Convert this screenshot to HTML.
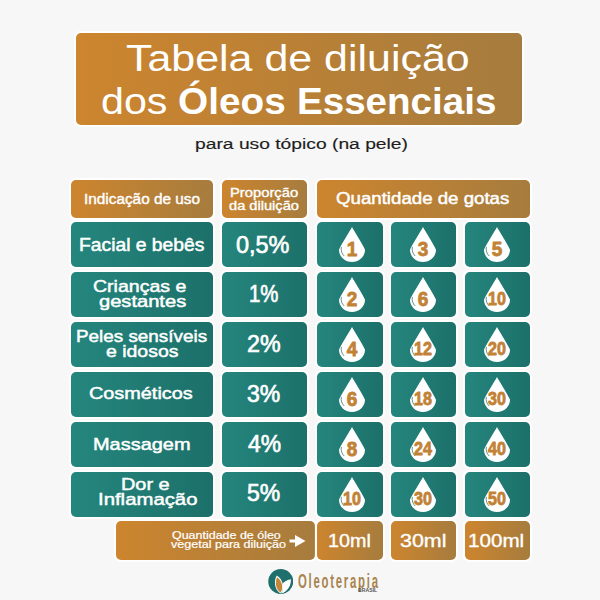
<!DOCTYPE html>
<html><head><meta charset="utf-8">
<style>
html,body{margin:0;padding:0;width:600px;height:600px;overflow:hidden;background:#f7f7f7;}
body{position:relative;font-family:"Liberation Sans",sans-serif;}
.b{position:absolute;border-radius:5px;box-sizing:border-box;box-shadow:0 0 1px 1.5px rgba(255,255,255,0.95);}
.or{background:linear-gradient(90deg,#cd852e 0%,#a67c3e 100%);}
.tl{background:linear-gradient(90deg,#25867d 0%,#1c706a 100%);}
.t{position:absolute;white-space:nowrap;transform-origin:0 0;}
.d{position:absolute;}
</style></head>
<body>

<div class="b or" style="left:76px;top:33px;width:446px;height:92.3px;"></div>
<div class="b or" style="left:71px;top:180px;width:141.5px;height:37.5px;"></div>
<div class="b or" style="left:222px;top:180px;width:85px;height:37.5px;"></div>
<div class="b or" style="left:317px;top:180px;width:213px;height:37.5px;"></div>
<div class="b tl" style="left:71px;top:222px;width:141.5px;height:45.30000000000001px;"></div>
<div class="b tl" style="left:222px;top:222px;width:85px;height:45.30000000000001px;"></div>
<div class="b tl" style="left:317px;top:222px;width:65.5px;height:45.30000000000001px;"></div>
<svg class="d" style="left:338.75px;top:227.00px" width="26" height="35" viewBox="0 0 26 35"><g transform="scale(1 0.9722)"><path d="M13 0 C15 4 24.5 19 26 23.4 C26 30.4 20.2 36 13 36 C5.8 36 0 30.4 0 23.4 C1.5 19 11 4 13 0Z" fill="#fff"/><path d="M2.4 20.5 C1.6 24 2.8 27.5 5.2 29.8" stroke="#2c5f5c" stroke-width="0.7" fill="none"/></g><g transform="translate(13 0) scale(0.95 1)"><text x="0" y="29.0" text-anchor="middle" font-family="Liberation Sans" font-weight="bold" font-size="20" fill="#c28235" stroke="#c28235" stroke-width="0.8" stroke-linejoin="round">1</text></g></svg>
<div class="b tl" style="left:391px;top:222px;width:64.5px;height:45.30000000000001px;"></div>
<svg class="d" style="left:410.25px;top:227.00px" width="26" height="35" viewBox="0 0 26 35"><g transform="scale(1 0.9722)"><path d="M13 0 C15 4 24.5 19 26 23.4 C26 30.4 20.2 36 13 36 C5.8 36 0 30.4 0 23.4 C1.5 19 11 4 13 0Z" fill="#fff"/><path d="M2.4 20.5 C1.6 24 2.8 27.5 5.2 29.8" stroke="#2c5f5c" stroke-width="0.7" fill="none"/></g><g transform="translate(13 0) scale(0.95 1)"><text x="0" y="29.0" text-anchor="middle" font-family="Liberation Sans" font-weight="bold" font-size="20" fill="#c28235" stroke="#c28235" stroke-width="0.8" stroke-linejoin="round">3</text></g></svg>
<div class="b tl" style="left:464.5px;top:222px;width:65.0px;height:45.30000000000001px;"></div>
<svg class="d" style="left:484.00px;top:227.00px" width="26" height="35" viewBox="0 0 26 35"><g transform="scale(1 0.9722)"><path d="M13 0 C15 4 24.5 19 26 23.4 C26 30.4 20.2 36 13 36 C5.8 36 0 30.4 0 23.4 C1.5 19 11 4 13 0Z" fill="#fff"/><path d="M2.4 20.5 C1.6 24 2.8 27.5 5.2 29.8" stroke="#2c5f5c" stroke-width="0.7" fill="none"/></g><g transform="translate(13 0) scale(0.95 1)"><text x="0" y="29.0" text-anchor="middle" font-family="Liberation Sans" font-weight="bold" font-size="20" fill="#c28235" stroke="#c28235" stroke-width="0.8" stroke-linejoin="round">5</text></g></svg>
<div class="b tl" style="left:71px;top:272px;width:141.5px;height:45.30000000000001px;"></div>
<div class="b tl" style="left:222px;top:272px;width:85px;height:45.30000000000001px;"></div>
<div class="b tl" style="left:317px;top:272px;width:65.5px;height:45.30000000000001px;"></div>
<svg class="d" style="left:338.75px;top:277.00px" width="26" height="35" viewBox="0 0 26 35"><g transform="scale(1 0.9722)"><path d="M13 0 C15 4 24.5 19 26 23.4 C26 30.4 20.2 36 13 36 C5.8 36 0 30.4 0 23.4 C1.5 19 11 4 13 0Z" fill="#fff"/><path d="M2.4 20.5 C1.6 24 2.8 27.5 5.2 29.8" stroke="#2c5f5c" stroke-width="0.7" fill="none"/></g><g transform="translate(13 0) scale(0.95 1)"><text x="0" y="29.0" text-anchor="middle" font-family="Liberation Sans" font-weight="bold" font-size="20" fill="#c28235" stroke="#c28235" stroke-width="0.8" stroke-linejoin="round">2</text></g></svg>
<div class="b tl" style="left:391px;top:272px;width:64.5px;height:45.30000000000001px;"></div>
<svg class="d" style="left:410.25px;top:277.00px" width="26" height="35" viewBox="0 0 26 35"><g transform="scale(1 0.9722)"><path d="M13 0 C15 4 24.5 19 26 23.4 C26 30.4 20.2 36 13 36 C5.8 36 0 30.4 0 23.4 C1.5 19 11 4 13 0Z" fill="#fff"/><path d="M2.4 20.5 C1.6 24 2.8 27.5 5.2 29.8" stroke="#2c5f5c" stroke-width="0.7" fill="none"/></g><g transform="translate(13 0) scale(0.95 1)"><text x="0" y="29.0" text-anchor="middle" font-family="Liberation Sans" font-weight="bold" font-size="20" fill="#c28235" stroke="#c28235" stroke-width="0.8" stroke-linejoin="round">6</text></g></svg>
<div class="b tl" style="left:464.5px;top:272px;width:65.0px;height:45.30000000000001px;"></div>
<svg class="d" style="left:484.00px;top:277.00px" width="26" height="35" viewBox="0 0 26 35"><g transform="scale(1 0.9722)"><path d="M13 0 C15 4 24.5 19 26 23.4 C26 30.4 20.2 36 13 36 C5.8 36 0 30.4 0 23.4 C1.5 19 11 4 13 0Z" fill="#fff"/><path d="M2.4 20.5 C1.6 24 2.8 27.5 5.2 29.8" stroke="#2c5f5c" stroke-width="0.7" fill="none"/></g><g transform="translate(13 0) scale(0.92 1)"><text x="0" y="28.3" text-anchor="middle" font-family="Liberation Sans" font-weight="bold" font-size="17.5" fill="#c28235" stroke="#c28235" stroke-width="0.8" stroke-linejoin="round">10</text></g></svg>
<div class="b tl" style="left:71px;top:322px;width:141.5px;height:45.30000000000001px;"></div>
<div class="b tl" style="left:222px;top:322px;width:85px;height:45.30000000000001px;"></div>
<div class="b tl" style="left:317px;top:322px;width:65.5px;height:45.30000000000001px;"></div>
<svg class="d" style="left:338.75px;top:327.00px" width="26" height="35" viewBox="0 0 26 35"><g transform="scale(1 0.9722)"><path d="M13 0 C15 4 24.5 19 26 23.4 C26 30.4 20.2 36 13 36 C5.8 36 0 30.4 0 23.4 C1.5 19 11 4 13 0Z" fill="#fff"/><path d="M2.4 20.5 C1.6 24 2.8 27.5 5.2 29.8" stroke="#2c5f5c" stroke-width="0.7" fill="none"/></g><g transform="translate(13 0) scale(0.95 1)"><text x="0" y="29.0" text-anchor="middle" font-family="Liberation Sans" font-weight="bold" font-size="20" fill="#c28235" stroke="#c28235" stroke-width="0.8" stroke-linejoin="round">4</text></g></svg>
<div class="b tl" style="left:391px;top:322px;width:64.5px;height:45.30000000000001px;"></div>
<svg class="d" style="left:410.25px;top:327.00px" width="26" height="35" viewBox="0 0 26 35"><g transform="scale(1 0.9722)"><path d="M13 0 C15 4 24.5 19 26 23.4 C26 30.4 20.2 36 13 36 C5.8 36 0 30.4 0 23.4 C1.5 19 11 4 13 0Z" fill="#fff"/><path d="M2.4 20.5 C1.6 24 2.8 27.5 5.2 29.8" stroke="#2c5f5c" stroke-width="0.7" fill="none"/></g><g transform="translate(13 0) scale(0.92 1)"><text x="0" y="28.3" text-anchor="middle" font-family="Liberation Sans" font-weight="bold" font-size="17.5" fill="#c28235" stroke="#c28235" stroke-width="0.8" stroke-linejoin="round">12</text></g></svg>
<div class="b tl" style="left:464.5px;top:322px;width:65.0px;height:45.30000000000001px;"></div>
<svg class="d" style="left:484.00px;top:327.00px" width="26" height="35" viewBox="0 0 26 35"><g transform="scale(1 0.9722)"><path d="M13 0 C15 4 24.5 19 26 23.4 C26 30.4 20.2 36 13 36 C5.8 36 0 30.4 0 23.4 C1.5 19 11 4 13 0Z" fill="#fff"/><path d="M2.4 20.5 C1.6 24 2.8 27.5 5.2 29.8" stroke="#2c5f5c" stroke-width="0.7" fill="none"/></g><g transform="translate(13 0) scale(0.92 1)"><text x="0" y="28.3" text-anchor="middle" font-family="Liberation Sans" font-weight="bold" font-size="17.5" fill="#c28235" stroke="#c28235" stroke-width="0.8" stroke-linejoin="round">20</text></g></svg>
<div class="b tl" style="left:71px;top:372px;width:141.5px;height:45.30000000000001px;"></div>
<div class="b tl" style="left:222px;top:372px;width:85px;height:45.30000000000001px;"></div>
<div class="b tl" style="left:317px;top:372px;width:65.5px;height:45.30000000000001px;"></div>
<svg class="d" style="left:338.75px;top:377.00px" width="26" height="35" viewBox="0 0 26 35"><g transform="scale(1 0.9722)"><path d="M13 0 C15 4 24.5 19 26 23.4 C26 30.4 20.2 36 13 36 C5.8 36 0 30.4 0 23.4 C1.5 19 11 4 13 0Z" fill="#fff"/><path d="M2.4 20.5 C1.6 24 2.8 27.5 5.2 29.8" stroke="#2c5f5c" stroke-width="0.7" fill="none"/></g><g transform="translate(13 0) scale(0.95 1)"><text x="0" y="29.0" text-anchor="middle" font-family="Liberation Sans" font-weight="bold" font-size="20" fill="#c28235" stroke="#c28235" stroke-width="0.8" stroke-linejoin="round">6</text></g></svg>
<div class="b tl" style="left:391px;top:372px;width:64.5px;height:45.30000000000001px;"></div>
<svg class="d" style="left:410.25px;top:377.00px" width="26" height="35" viewBox="0 0 26 35"><g transform="scale(1 0.9722)"><path d="M13 0 C15 4 24.5 19 26 23.4 C26 30.4 20.2 36 13 36 C5.8 36 0 30.4 0 23.4 C1.5 19 11 4 13 0Z" fill="#fff"/><path d="M2.4 20.5 C1.6 24 2.8 27.5 5.2 29.8" stroke="#2c5f5c" stroke-width="0.7" fill="none"/></g><g transform="translate(13 0) scale(0.92 1)"><text x="0" y="28.3" text-anchor="middle" font-family="Liberation Sans" font-weight="bold" font-size="17.5" fill="#c28235" stroke="#c28235" stroke-width="0.8" stroke-linejoin="round">18</text></g></svg>
<div class="b tl" style="left:464.5px;top:372px;width:65.0px;height:45.30000000000001px;"></div>
<svg class="d" style="left:484.00px;top:377.00px" width="26" height="35" viewBox="0 0 26 35"><g transform="scale(1 0.9722)"><path d="M13 0 C15 4 24.5 19 26 23.4 C26 30.4 20.2 36 13 36 C5.8 36 0 30.4 0 23.4 C1.5 19 11 4 13 0Z" fill="#fff"/><path d="M2.4 20.5 C1.6 24 2.8 27.5 5.2 29.8" stroke="#2c5f5c" stroke-width="0.7" fill="none"/></g><g transform="translate(13 0) scale(0.92 1)"><text x="0" y="28.3" text-anchor="middle" font-family="Liberation Sans" font-weight="bold" font-size="17.5" fill="#c28235" stroke="#c28235" stroke-width="0.8" stroke-linejoin="round">30</text></g></svg>
<div class="b tl" style="left:71px;top:422px;width:141.5px;height:45.30000000000001px;"></div>
<div class="b tl" style="left:222px;top:422px;width:85px;height:45.30000000000001px;"></div>
<div class="b tl" style="left:317px;top:422px;width:65.5px;height:45.30000000000001px;"></div>
<svg class="d" style="left:338.75px;top:427.00px" width="26" height="35" viewBox="0 0 26 35"><g transform="scale(1 0.9722)"><path d="M13 0 C15 4 24.5 19 26 23.4 C26 30.4 20.2 36 13 36 C5.8 36 0 30.4 0 23.4 C1.5 19 11 4 13 0Z" fill="#fff"/><path d="M2.4 20.5 C1.6 24 2.8 27.5 5.2 29.8" stroke="#2c5f5c" stroke-width="0.7" fill="none"/></g><g transform="translate(13 0) scale(0.95 1)"><text x="0" y="29.0" text-anchor="middle" font-family="Liberation Sans" font-weight="bold" font-size="20" fill="#c28235" stroke="#c28235" stroke-width="0.8" stroke-linejoin="round">8</text></g></svg>
<div class="b tl" style="left:391px;top:422px;width:64.5px;height:45.30000000000001px;"></div>
<svg class="d" style="left:410.25px;top:427.00px" width="26" height="35" viewBox="0 0 26 35"><g transform="scale(1 0.9722)"><path d="M13 0 C15 4 24.5 19 26 23.4 C26 30.4 20.2 36 13 36 C5.8 36 0 30.4 0 23.4 C1.5 19 11 4 13 0Z" fill="#fff"/><path d="M2.4 20.5 C1.6 24 2.8 27.5 5.2 29.8" stroke="#2c5f5c" stroke-width="0.7" fill="none"/></g><g transform="translate(13 0) scale(0.92 1)"><text x="0" y="28.3" text-anchor="middle" font-family="Liberation Sans" font-weight="bold" font-size="17.5" fill="#c28235" stroke="#c28235" stroke-width="0.8" stroke-linejoin="round">24</text></g></svg>
<div class="b tl" style="left:464.5px;top:422px;width:65.0px;height:45.30000000000001px;"></div>
<svg class="d" style="left:484.00px;top:427.00px" width="26" height="35" viewBox="0 0 26 35"><g transform="scale(1 0.9722)"><path d="M13 0 C15 4 24.5 19 26 23.4 C26 30.4 20.2 36 13 36 C5.8 36 0 30.4 0 23.4 C1.5 19 11 4 13 0Z" fill="#fff"/><path d="M2.4 20.5 C1.6 24 2.8 27.5 5.2 29.8" stroke="#2c5f5c" stroke-width="0.7" fill="none"/></g><g transform="translate(13 0) scale(0.92 1)"><text x="0" y="28.3" text-anchor="middle" font-family="Liberation Sans" font-weight="bold" font-size="17.5" fill="#c28235" stroke="#c28235" stroke-width="0.8" stroke-linejoin="round">40</text></g></svg>
<div class="b tl" style="left:71px;top:472px;width:141.5px;height:45.299999999999955px;"></div>
<div class="b tl" style="left:222px;top:472px;width:85px;height:45.299999999999955px;"></div>
<div class="b tl" style="left:317px;top:472px;width:65.5px;height:45.299999999999955px;"></div>
<svg class="d" style="left:338.75px;top:477.00px" width="26" height="35" viewBox="0 0 26 35"><g transform="scale(1 0.9722)"><path d="M13 0 C15 4 24.5 19 26 23.4 C26 30.4 20.2 36 13 36 C5.8 36 0 30.4 0 23.4 C1.5 19 11 4 13 0Z" fill="#fff"/><path d="M2.4 20.5 C1.6 24 2.8 27.5 5.2 29.8" stroke="#2c5f5c" stroke-width="0.7" fill="none"/></g><g transform="translate(13 0) scale(0.92 1)"><text x="0" y="28.3" text-anchor="middle" font-family="Liberation Sans" font-weight="bold" font-size="17.5" fill="#c28235" stroke="#c28235" stroke-width="0.8" stroke-linejoin="round">10</text></g></svg>
<div class="b tl" style="left:391px;top:472px;width:64.5px;height:45.299999999999955px;"></div>
<svg class="d" style="left:410.25px;top:477.00px" width="26" height="35" viewBox="0 0 26 35"><g transform="scale(1 0.9722)"><path d="M13 0 C15 4 24.5 19 26 23.4 C26 30.4 20.2 36 13 36 C5.8 36 0 30.4 0 23.4 C1.5 19 11 4 13 0Z" fill="#fff"/><path d="M2.4 20.5 C1.6 24 2.8 27.5 5.2 29.8" stroke="#2c5f5c" stroke-width="0.7" fill="none"/></g><g transform="translate(13 0) scale(0.92 1)"><text x="0" y="28.3" text-anchor="middle" font-family="Liberation Sans" font-weight="bold" font-size="17.5" fill="#c28235" stroke="#c28235" stroke-width="0.8" stroke-linejoin="round">30</text></g></svg>
<div class="b tl" style="left:464.5px;top:472px;width:65.0px;height:45.299999999999955px;"></div>
<svg class="d" style="left:484.00px;top:477.00px" width="26" height="35" viewBox="0 0 26 35"><g transform="scale(1 0.9722)"><path d="M13 0 C15 4 24.5 19 26 23.4 C26 30.4 20.2 36 13 36 C5.8 36 0 30.4 0 23.4 C1.5 19 11 4 13 0Z" fill="#fff"/><path d="M2.4 20.5 C1.6 24 2.8 27.5 5.2 29.8" stroke="#2c5f5c" stroke-width="0.7" fill="none"/></g><g transform="translate(13 0) scale(0.92 1)"><text x="0" y="28.3" text-anchor="middle" font-family="Liberation Sans" font-weight="bold" font-size="17.5" fill="#c28235" stroke="#c28235" stroke-width="0.8" stroke-linejoin="round">50</text></g></svg>
<div class="b or" style="left:116px;top:521px;width:198.5px;height:39px;"></div>
<div class="b or" style="left:317px;top:521px;width:65.5px;height:39px;"></div>
<div class="b or" style="left:391px;top:521px;width:64.5px;height:39px;"></div>
<div class="b or" style="left:464.5px;top:521px;width:65.0px;height:39px;"></div>
<svg style="position:absolute;left:289px;top:534.5px" width="17" height="12" viewBox="0 0 17 12"><path d="M0.5 6H8" stroke="#fff" stroke-width="3"/><path d="M6 0L16.5 6L6 12Z" fill="#fff"/></svg>
<svg style="position:absolute;left:267.5px;top:568.5px" width="25.5" height="25" viewBox="0 0 25.5 25"><circle cx="12.75" cy="12.5" r="12.5" fill="#1f6f6c"/><path d="M12.5 24.6 C6 20.5 5.8 11 8.8 6.5 C15.5 10.5 17 20 12.5 24.6Z" fill="#fff"/><path d="M12.4 23.6 C7.2 19.8 7 12 9.2 8.2 C14.6 12 15.6 19.5 12.4 23.6Z" fill="#c4873a"/><path d="M13 24.6 C19.8 22.5 23.2 16.5 22.9 10.2 C18.5 11 15.5 13 14.6 14.8 C15.6 18.5 14.8 22 13 24.6Z" fill="#fff"/></svg>
<div class="t" style="left:125.81px;top:40.50px;font-size:36px;line-height:36px;font-weight:normal;color:#fff;transform:scaleX(1.1923);">Tabela de diluição</div>
<div class="t" style="left:100.71px;top:83.60px;font-size:36px;line-height:36px;font-weight:normal;color:#fff;transform:scaleX(1.1455);">dos</div>
<div class="t" style="left:178.42px;top:83.60px;font-size:36px;line-height:36px;font-weight:bold;color:#fff;transform:scaleX(1.0765);">Óleos</div>
<div class="t" style="left:296.86px;top:83.60px;font-size:36px;line-height:36px;font-weight:bold;color:#fff;transform:scaleX(1.0710);">Essenciais</div>
<div class="t" style="left:195.39px;top:136.70px;font-size:14.7px;line-height:14.7px;font-weight:normal;-webkit-text-stroke:0.15px #1e1e1e;color:#1e1e1e;transform:scaleX(1.3106);">para uso tópico (na pele)</div>
<div class="t" style="left:83.89px;top:192.72px;font-size:13.8px;line-height:13.8px;font-weight:normal;-webkit-text-stroke:0.39px #fff;color:#fff;transform:scaleX(1.1117);">Indicação de uso</div>
<div class="t" style="left:229.60px;top:187.44px;font-size:12.3px;line-height:12.3px;font-weight:normal;-webkit-text-stroke:0.34px #fff;color:#fff;transform:scaleX(1.2000);">Proporção</div>
<div class="t" style="left:228.50px;top:200.24px;font-size:12.3px;line-height:12.3px;font-weight:normal;-webkit-text-stroke:0.34px #fff;color:#fff;transform:scaleX(1.1898);">da diluição</div>
<div class="t" style="left:336.33px;top:191.35px;font-size:16px;line-height:16px;font-weight:normal;-webkit-text-stroke:0.45px #fff;color:#fff;transform:scaleX(1.1667);">Quantidade de gotas</div>
<div class="t" style="left:78.93px;top:235.90px;font-size:18px;line-height:18px;font-weight:normal;-webkit-text-stroke:0.50px #fff;color:#fff;transform:scaleX(1.0711);">Facial e bebês</div>
<div class="t" style="left:93.08px;top:279.00px;font-size:16.7px;line-height:16.7px;font-weight:normal;-webkit-text-stroke:0.47px #fff;color:#fff;transform:scaleX(1.1699);">Crianças e</div>
<div class="t" style="left:98.75px;top:294.00px;font-size:16.7px;line-height:16.7px;font-weight:normal;-webkit-text-stroke:0.47px #fff;color:#fff;transform:scaleX(1.2049);">gestantes</div>
<div class="t" style="left:75.87px;top:328.50px;font-size:16.7px;line-height:16.7px;font-weight:normal;-webkit-text-stroke:0.47px #fff;color:#fff;transform:scaleX(1.1304);">Peles sensíveis</div>
<div class="t" style="left:105.75px;top:344.00px;font-size:16.7px;line-height:16.7px;font-weight:normal;-webkit-text-stroke:0.47px #fff;color:#fff;transform:scaleX(1.1653);">e idosos</div>
<div class="t" style="left:89.33px;top:385.00px;font-size:17px;line-height:17px;font-weight:normal;-webkit-text-stroke:0.48px #fff;color:#fff;transform:scaleX(1.1676);">Cosméticos</div>
<div class="t" style="left:93.33px;top:435.50px;font-size:17px;line-height:17px;font-weight:normal;-webkit-text-stroke:0.48px #fff;color:#fff;transform:scaleX(1.1728);">Massagem</div>
<div class="t" style="left:120.56px;top:477.00px;font-size:16.7px;line-height:16.7px;font-weight:normal;-webkit-text-stroke:0.47px #fff;color:#fff;transform:scaleX(1.1923);">Dor e</div>
<div class="t" style="left:97.53px;top:492.25px;font-size:16.7px;line-height:16.7px;font-weight:normal;-webkit-text-stroke:0.47px #fff;color:#fff;transform:scaleX(1.2188);">Inflamação</div>
<div class="t" style="left:235.68px;top:233.65px;font-size:23px;line-height:23px;font-weight:normal;-webkit-text-stroke:0.64px #fff;color:#fff;transform:scaleX(1.0196);">0,5%</div>
<div class="t" style="left:249.12px;top:282.85px;font-size:23px;line-height:23px;font-weight:normal;-webkit-text-stroke:0.64px #fff;color:#fff;transform:scaleX(0.8844);">1%</div>
<div class="t" style="left:246.99px;top:333.15px;font-size:23px;line-height:23px;font-weight:normal;-webkit-text-stroke:0.64px #fff;color:#fff;transform:scaleX(1.0094);">2%</div>
<div class="t" style="left:247.00px;top:382.85px;font-size:23px;line-height:23px;font-weight:normal;-webkit-text-stroke:0.64px #fff;color:#fff;transform:scaleX(1.0000);">3%</div>
<div class="t" style="left:247.50px;top:433.15px;font-size:23px;line-height:23px;font-weight:normal;-webkit-text-stroke:0.64px #fff;color:#fff;transform:scaleX(0.9939);">4%</div>
<div class="t" style="left:247.00px;top:482.35px;font-size:23px;line-height:23px;font-weight:normal;-webkit-text-stroke:0.64px #fff;color:#fff;transform:scaleX(1.0000);">5%</div>
<div class="t" style="left:172.00px;top:529.78px;font-size:10.5px;line-height:10.5px;font-weight:normal;-webkit-text-stroke:0.20px #fff;color:#fff;transform:scaleX(1.1868);">Quantidade de óleo</div>
<div class="t" style="left:170.50px;top:539.28px;font-size:10.5px;line-height:10.5px;font-weight:normal;-webkit-text-stroke:0.20px #fff;color:#fff;transform:scaleX(1.1948);">vegetal para diluição</div>
<div class="t" style="left:328.26px;top:531.25px;font-size:19px;line-height:19px;font-weight:normal;-webkit-text-stroke:0.35px #fff;color:#fff;transform:scaleX(1.0385);">10ml</div>
<div class="t" style="left:400.07px;top:531.25px;font-size:19px;line-height:19px;font-weight:normal;-webkit-text-stroke:0.35px #fff;color:#fff;transform:scaleX(1.1282);">30ml</div>
<div class="t" style="left:467.91px;top:531.25px;font-size:19px;line-height:19px;font-weight:normal;-webkit-text-stroke:0.35px #fff;color:#fff;transform:scaleX(1.0860);">100ml</div>
<div class="t" style="left:297.72px;top:571.62px;font-size:19.5px;line-height:19.5px;font-weight:bold;color:#a8844f;transform:scaleX(0.5824);"><span style="letter-spacing:3px">Oleoterapi</span>a</div>
<div class="t" style="left:358.30px;top:588.77px;font-size:4.5px;line-height:4.5px;font-weight:bold;color:#555;transform:scaleX(1.1500);">BRASIL</div>
</body></html>
